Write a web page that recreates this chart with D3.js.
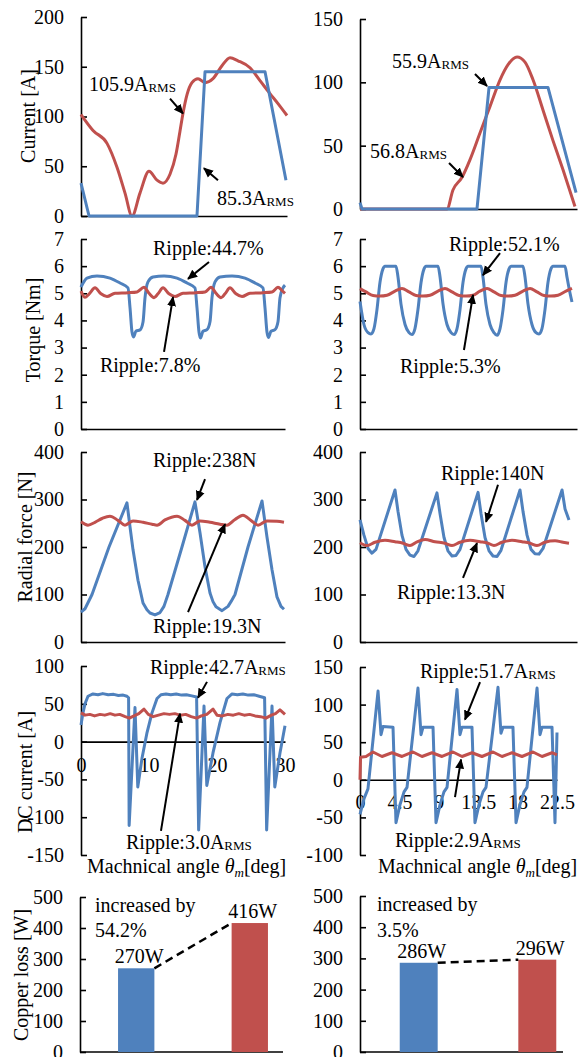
<!DOCTYPE html>
<html><head><meta charset="utf-8">
<script src="https://cdn.jsdelivr.net/npm/d3@7"></script>
<style>body{margin:0;background:#fff}svg{display:block}</style>
</head><body>
<svg id="c" width="587" height="1057"></svg>
<script>
// ---------------- DATA ----------------
const angleTicksLeft = [0, 10, 20, 30];
const angleTicksRight = [0, 4.5, 9, 13.5, 18, 22.5];
const currentTicksLeft = [0, 50, 100, 150, 200];
const currentTicksRight = [0, 50, 100, 150];
const torqueTicks = [0, 1, 2, 3, 4, 5, 6, 7];
const forceTicks = [0, 100, 200, 300, 400];
const dcTicksLeft = [-150, -100, -50, 0, 50, 100];
const dcTicksRight = [-100, -50, 0, 50, 100, 150];
const lossTicks = [0, 100, 200, 300, 400, 500];

// [angle, value]
const currentLeftBlue = [[0,33],[1.17,0],[16.89,0],[18.06,145],[26.8,145],[29.85,36]];
const currentLeftRed = [[0,102],[1.75,86],[3.79,73],[5.24,49],[6.41,23],[7.43,0],[8.59,23],[9.9,45],[11.07,36],[11.94,33],[12.96,42],[13.83,62],[14.41,85],[14.85,103],[15.44,122],[16.16,134],[17.04,138],[18.06,134],[19.22,138],[20.53,151],[21.7,159],[22.86,156],[24.61,149],[26.07,136],[27.52,123],[28.69,113],[30,101]];
const currentRightBlue = [[0,5],[0.21,0],[12.13,0],[13.38,96],[19.49,96],[22.4,13]];
const currentRightRed = [[0,0],[9.02,0],[9.64,15],[10.58,25],[11.41,39],[12.44,60],[13.48,81],[14.52,102],[15.35,114],[16.28,120],[17.11,116],[17.94,102],[18.98,78],[20.01,54],[21.05,31],[22.29,2]];

const torqueLeftBlue = [[0,5.23],[0.88,5.56],[2.35,5.64],[4.26,5.56],[5.74,5.38],[6.91,5.2],[7.21,4.46],[7.5,3.57],[7.72,3.39],[8.09,3.61],[8.68,3.65],[9.12,3.94],[9.41,4.83],[9.85,5.42],[10.59,5.6],[12.21,5.64],[14.12,5.56],[15.59,5.38],[16.76,5.2],[17.06,4.46],[17.35,3.57],[17.57,3.35],[17.94,3.6],[18.53,3.66],[18.97,3.95],[19.26,4.83],[19.71,5.42],[20.44,5.6],[22.21,5.64],[24.12,5.56],[25.59,5.38],[26.76,5.2],[27.06,4.46],[27.35,3.57],[27.57,3.37],[27.94,3.6],[28.53,3.66],[28.97,3.95],[29.26,4.83],[29.71,5.2],[30,5.3]];
const torqueLeftRed = [[0,5.08],[0.59,4.85],[1.18,4.97],[2.06,5.2],[2.94,4.98],[3.82,4.88],[5.0,5.0],[6.91,5.02],[8.24,5.05],[9.26,5.22],[10.0,5.0],[10.74,4.84],[11.32,4.98],[12.06,5.2],[12.94,4.98],[13.82,4.88],[15.0,5.0],[16.91,5.02],[18.24,5.05],[19.12,5.22],[19.85,5.0],[20.59,4.84],[21.18,4.98],[21.91,5.2],[22.79,4.98],[23.68,4.88],[24.85,5.0],[26.76,5.02],[28.09,5.05],[28.97,5.22],[29.56,5.1],[30,5.0]];
const torqueRightBlue = [[0,4.7],[0.41,3.85],[0.83,3.55],[1.14,3.5],[1.45,3.7],[1.76,4.4],[2.07,5.4],[2.38,5.9],[2.59,6.0],[3.73,6.0],[3.94,5.6],[4.25,4.6],[4.67,3.85],[5.08,3.55],[5.39,3.48],[5.7,3.7],[6.01,4.4],[6.33,5.4],[6.64,5.9],[6.84,6.0],[8.09,6.0],[8.3,5.6],[8.61,4.6],[9.02,3.85],[9.44,3.55],[9.75,3.48],[10.06,3.7],[10.37,4.4],[10.68,5.4],[10.99,5.9],[11.2,6.0],[12.55,6.0],[12.75,5.6],[13.06,4.6],[13.48,3.85],[13.89,3.55],[14.21,3.45],[14.52,3.7],[14.83,4.4],[15.14,5.4],[15.45,5.9],[15.66,6.0],[16.9,6.0],[17.11,5.6],[17.42,4.6],[17.83,3.85],[18.25,3.55],[18.56,3.5],[18.87,3.7],[19.18,4.4],[19.49,5.4],[19.8,5.9],[20.01,6.0],[21.26,6.0],[21.46,5.6],[21.78,5.0],[21.98,4.68]];
const torqueRightRed = [[0,5.17],[0.62,5.05],[1.35,4.92],[2.07,4.9],[2.8,4.93],[3.63,5.08],[4.35,5.18],[5.08,5.05],[5.81,4.92],[6.53,4.9],[7.26,4.93],[8.09,5.08],[8.81,5.18],[9.54,5.05],[10.27,4.92],[10.99,4.9],[11.72,4.93],[12.44,5.08],[13.17,5.18],[13.89,5.05],[14.62,4.92],[15.35,4.9],[16.07,4.93],[16.9,5.08],[17.63,5.18],[18.35,5.05],[19.08,4.92],[19.8,4.9],[20.53,4.93],[21.36,5.08],[21.98,5.18]];

const forceLeftBlue = [[0,63],[0.59,70],[1.62,100],[4.12,200],[6.76,293],[7.21,242],[7.65,194],[8.38,130],[9.12,82],[9.7,68],[10.15,61],[10.88,57],[11.62,62],[12.2,75],[12.79,100],[14.85,200],[16.76,295],[17.5,230],[18.24,158],[18.97,103],[19.41,85],[19.85,74],[20.74,66],[21.62,75],[22.1,86],[22.65,100],[24.56,200],[26.62,297],[27.35,221],[28.09,152],[28.82,95],[29.41,75],[29.85,69]];
const forceLeftRed = [[0,253],[1.03,246],[2.06,252],[3.09,260],[4.26,265],[5.44,256],[6.47,246],[7.65,255],[9.12,252],[10.44,248],[11.18,246],[12.35,257],[14.12,265],[15.29,256],[16.32,246],[17.5,255],[18.97,252],[20.44,248],[21.47,246],[22.65,258],[23.82,267],[25.0,256],[26.03,246],[27.35,255],[28.82,254],[29.85,252]];
const forceRightBlue = [[0,257],[0.41,225],[0.83,197],[1.24,187],[1.66,195],[3.63,320],[3.94,275],[4.35,225],[4.77,195],[5.18,183],[5.6,180],[6.01,192],[7.98,314],[8.3,270],[8.71,220],[9.12,192],[9.54,181],[9.95,182],[10.37,195],[12.24,315],[12.55,270],[12.96,220],[13.38,192],[13.79,181],[14.21,180],[14.62,193],[16.59,320],[16.9,275],[17.32,225],[17.73,195],[18.14,186],[18.56,185],[18.98,197],[20.95,320],[21.26,280],[21.67,257]];
const forceRightRed = [[0,209],[0.73,203],[1.56,210],[2.59,214],[3.63,211],[4.46,208],[5.18,203],[5.91,211],[6.74,216],[7.78,211],[8.81,208],[9.54,203],[10.37,210],[11.41,214],[12.44,211],[13.27,208],[13.89,203],[14.72,210],[15.76,214],[16.8,211],[17.63,208],[18.35,203],[19.18,210],[20.22,213],[21.05,210],[21.67,208]];

const dcLeftBlue = [[0,22],[0.29,38],[0.59,50],[1.03,60],[1.76,63],[2.5,62],[3.2,63.5],[4.0,62],[4.8,62.5],[5.5,61],[6.2,61.5],[6.76,60],[7.0,58],[7.08,-111],[7.94,45],[8.35,-60],[8.97,-22],[9.71,12],[10.44,38],[11.18,57],[11.76,62],[12.5,63],[13.2,62],[14.0,63],[14.8,61.5],[15.5,62],[16.3,60.5],[17.0,59],[17.3,-117],[18.09,47],[18.5,-58],[19.41,-15],[20.44,25],[21.47,57],[22.21,63],[23.0,62],[23.8,63],[24.6,61.5],[25.4,62],[26.2,60],[27.0,58],[27.3,-117],[28.09,47],[28.5,-60],[29.26,-15],[30,21]];
const dcLeftRed = [[0,38],[0.6,35],[1.3,36],[2.0,34],[2.8,36],[3.5,35],[4.3,37],[5.0,35],[5.7,36],[6.5,33],[7.1,31],[7.8,34],[8.5,37],[9.26,43],[9.9,36],[10.6,33],[11.4,35],[12.2,37],[13.0,36],[13.8,37],[14.6,35],[15.4,36],[16.2,33],[17.0,31],[17.7,34],[18.5,36],[19.41,43],[20.0,35],[20.8,34],[21.6,36],[22.4,35],[23.2,37],[24.0,35],[24.8,36],[25.6,34],[26.4,33],[27.2,31],[28.0,35],[28.6,37],[29.26,42],[30,36]];
const dcRightBlue = [[0,-46],[0.46,-25],[0.91,-12],[2.06,118],[2.4,60],[2.63,71],[3.77,70],[4.11,-57],[4.57,-33],[5.03,-16],[5.37,-10],[6.62,122],[6.97,60],[7.2,70],[8.34,70],[8.68,-57],[9.14,-33],[9.59,-16],[9.94,-10],[11.08,120],[11.42,60],[11.65,70],[12.79,70],[13.13,-57],[13.59,-33],[14.05,-16],[14.39,-10],[15.76,123],[16.1,62],[16.33,70],[17.47,70],[17.82,-57],[18.27,-33],[18.73,-16],[19.07,-10],[20.22,122],[20.56,60],[20.79,70],[21.93,70],[22.27,-57],[22.5,63]];
const dcRightRed = [[0,0],[0.06,30],[0.69,31],[1.48,37],[2.51,31],[3.65,36],[4.8,31],[6.05,37],[7.08,31],[8.22,36],[9.37,31],[10.62,37],[11.65,31],[12.79,36],[13.93,31],[15.19,37],[16.22,31],[17.36,36],[18.5,31],[19.76,37],[20.79,31],[21.93,36],[22.5,33]];

const lossCategories = ['Conventional', 'Proposed'];
const lossLeft = [270, 416];
const lossRight = [286, 296];

const currentLeftNotes = [
  {label:'105.9A', sub:'RMS', at:[1.16,126], tail:[12.96,118], tip:[14.85,103]},
  {label:'85.3A', sub:'RMS', at:[19.8,11], tail:[19.95,36], tip:[17.9,48]}];
const currentRightNotes = [
  {label:'55.9A', sub:'RMS', at:[3.32,111.3], tail:[11.92,106.6], tip:[13.17,97.1]},
  {label:'56.8A', sub:'RMS', at:[1.04,40.3], tail:[9.23,36.3], tip:[10.68,25.3]}];
const torqueLeftNotes = [
  {label:'Ripple:44.7%', at:[10.59,6.41], tail:[18.82,6.15], tip:[15.74,5.53]},
  {label:'Ripple:7.8%', at:[2.79,2.1], tail:[12.21,2.84], tip:[13.53,4.86]}];
const torqueRightNotes = [
  {label:'Ripple:52.1%', at:[9.23,6.56], tail:[14.52,6.48], tip:[12.75,5.67]},
  {label:'Ripple:5.3%', at:[4.15,2.06], tail:[10.78,2.91], tip:[11.72,4.94]}];
const forceLeftNotes = [
  {label:'Ripple:238N', at:[10.59,368], tail:[18.24,343], tip:[17.06,299]},
  {label:'Ripple:19.3N', at:[10.59,19], tail:[15.74,63], tip:[21.18,248]}];
const forceRightNotes = [
  {label:'Ripple:140N', at:[8.4,341], tail:[14.31,331], tip:[13.07,253]},
  {label:'Ripple:13.3N', at:[3.84,91], tail:[10.68,135], tip:[12.13,208]}];
const dcLeftNotes = [
  {label:'Ripple:42.7A', sub:'RMS', at:[10.15,90], tail:[18.53,79], tip:[17.21,58]},
  {label:'Ripple:3.0A', sub:'RMS', at:[6.62,-142], tail:[11.76,-118], tip:[14.56,37]}];
const dcRightNotes = [
  {label:'Ripple:51.7A', sub:'RMS', at:[6.85,136], tail:[13.71,130], tip:[11.99,80]},
  {label:'Ripple:2.9A', sub:'RMS', at:[4.0,-90], tail:[10.85,-23], tip:[11.54,27]}];

// ---------------- DRAWING ----------------
const FONT = "'Liberation Serif','Times New Roman',Times,serif";
const BLUE = '#4F81BD', RED = '#C0504D';
const svg = d3.select('#c');
svg.append('rect').attr('width', 587).attr('height', 1057).attr('fill', '#fff');
svg.append('defs').append('marker').attr('id', 'ah')
  .attr('viewBox', '0 0 10 10').attr('refX', 9).attr('refY', 5)
  .attr('markerWidth', 5).attr('markerHeight', 5).attr('orient', 'auto')
  .append('path').attr('d', 'M0,0.5L10,5L0,9.5z').attr('fill', '#000');

function styleAxis(g) {
  g.attr('font-family', FONT).attr('font-size', 20);
  g.selectAll('text').attr('fill', '#000');
  g.selectAll('path,line').attr('stroke', '#000').attr('stroke-width', 1.6);
}

function addNotes(g, x, y, notes) {
  notes.forEach(n => {
    g.append('line').attr('x1', x(n.tail[0])).attr('y1', y(n.tail[1]))
      .attr('x2', x(n.tip[0])).attr('y2', y(n.tip[1]))
      .attr('stroke', '#000').attr('stroke-width', 2).attr('marker-end', 'url(#ah)');
    const t = g.append('text').attr('x', x(n.at[0])).attr('y', y(n.at[1]))
      .attr('font-family', FONT).attr('font-size', 20).attr('fill', '#000').text(n.label);
    if (n.sub) t.append('tspan').attr('font-size', 13).attr('dy', 1).text(n.sub);
  });
}

function yTitle(text, bx, cy) {
  svg.append('text').attr('transform', `translate(${bx},${cy}) rotate(-90)`)
    .attr('text-anchor', 'middle').attr('font-family', FONT).attr('font-size', 20)
    .attr('fill', '#000').text(text);
}

function linePanel(p) {
  const x = d3.scaleLinear().domain(p.xd).range(p.xr);
  const y = d3.scaleLinear().domain(p.yd).range(p.yr);
  const g = svg.append('g');
  g.append('g').attr('transform', `translate(${p.xr[0]},0)`)
    .call(d3.axisLeft(y).tickValues(p.yticks).tickFormat(d => String(d))
      .tickSizeInner(-6).tickSizeOuter(0).tickPadding(17))
    .call(styleAxis);
  const xa = d3.axisBottom(x).tickSizeInner(0).tickSizeOuter(0).tickPadding(p.xpad || 0);
  if (p.xticks) xa.tickValues(p.xticks).tickFormat(d => String(d)); else xa.tickValues([]);
  g.append('g').attr('transform', `translate(0,${y(0)})`).call(xa).call(styleAxis);
  p.series.forEach(([data, color, smooth]) => {
    const line = d3.line().x(d => x(d[0])).y(d => y(d[1]))
      .curve(smooth ? d3.curveMonotoneX : d3.curveLinear);
    g.append('path').datum(data).attr('d', line).attr('fill', 'none')
      .attr('stroke', color).attr('stroke-width', 3).attr('stroke-linejoin', 'round');
  });
  addNotes(g, x, y, p.notes);
  if (p.xlabel) {
    const t = g.append('text').attr('x', p.xlabel[0]).attr('y', p.xlabel[1])
      .attr('font-family', FONT).attr('font-size', 20).attr('fill', '#000');
    t.append('tspan').text('Machnical angle ');
    t.append('tspan').attr('font-style', 'italic').text('θ');
    t.append('tspan').attr('font-style', 'italic').attr('font-size', 13).attr('dy', 4).text('m');
    t.append('tspan').attr('dy', -4).text('[deg]');
  }
}

function barPanel(p) {
  const x = d3.scaleBand().domain(lossCategories).range(p.xr).paddingInner(0.68).paddingOuter(0.335);
  const y = d3.scaleLinear().domain([0, 500]).range(p.yr);
  const g = svg.append('g');
  g.append('g').attr('transform', `translate(${p.xr[0]},0)`)
    .call(d3.axisLeft(y).tickValues(lossTicks).tickFormat(d => String(d))
      .tickSizeInner(-6).tickSizeOuter(0).tickPadding(17))
    .call(styleAxis);
  g.append('line').attr('x1', p.xr[0]).attr('x2', p.axisEnd).attr('y1', y(0)).attr('y2', y(0))
    .attr('stroke', '#000').attr('stroke-width', 1.6);
  const colors = [BLUE, RED];
  g.selectAll('rect.bar').data(p.values).join('rect')
    .attr('x', (d, i) => x(lossCategories[i])).attr('width', x.bandwidth())
    .attr('y', d => y(d)).attr('height', d => y(0) - y(d)).attr('fill', (d, i) => colors[i]);
  g.append('line')
    .attr('x1', x(lossCategories[0]) + x.bandwidth()).attr('y1', y(p.values[0]))
    .attr('x2', x(lossCategories[1])).attr('y2', y(p.values[1]))
    .attr('stroke', '#000').attr('stroke-width', 2.5).attr('stroke-dasharray', '8,5');
  p.values.forEach((v, i) => {
    g.append('text').attr('x', x(lossCategories[i]) + x.bandwidth() / 2 + 3).attr('y', y(v) - 5)
      .attr('text-anchor', 'middle').attr('font-family', FONT).attr('font-size', 20)
      .attr('fill', '#000').text(v + 'W');
  });
  g.append('text').attr('x', p.xr[0] + p.noteDx).attr('y', y(452)).attr('font-family', FONT)
    .attr('font-size', 20).attr('fill', '#000').text('increased by');
  g.append('text').attr('x', p.xr[0] + p.noteDx).attr('y', y(370)).attr('font-family', FONT)
    .attr('font-size', 20).attr('fill', '#000').text(p.pct);
}

const linePanels = [
  {xr:[81,287], xd:[0,30], yr:[216,17], yd:[0,200], yticks:currentTicksLeft,
   series:[[currentLeftRed,RED,true],[currentLeftBlue,BLUE,false]], notes:currentLeftNotes},
  {xr:[360,577], xd:[0,22.5], yr:[209,19], yd:[0,150], yticks:currentTicksRight,
   series:[[currentRightRed,RED,true],[currentRightBlue,BLUE,false]], notes:currentRightNotes},
  {xr:[81,285], xd:[0,30], yr:[429,239], yd:[0,7], yticks:torqueTicks,
   series:[[torqueLeftBlue,BLUE,true],[torqueLeftRed,RED,true]], notes:torqueLeftNotes},
  {xr:[360,577], xd:[0,22.5], yr:[429,239], yd:[0,7], yticks:torqueTicks,
   series:[[torqueRightBlue,BLUE,true],[torqueRightRed,RED,true]], notes:torqueRightNotes},
  {xr:[81,285], xd:[0,30], yr:[642,452], yd:[0,400], yticks:forceTicks,
   series:[[forceLeftBlue,BLUE,false],[forceLeftRed,RED,true]], notes:forceLeftNotes},
  {xr:[360,577], xd:[0,22.5], yr:[642,452], yd:[0,400], yticks:forceTicks,
   series:[[forceRightBlue,BLUE,false],[forceRightRed,RED,true]], notes:forceRightNotes},
  {xr:[81,285], xd:[0,30], yr:[855,666], yd:[-150,100], yticks:dcTicksLeft,
   xticks:angleTicksLeft, xpad:16, xlabel:[87,873],
   series:[[dcLeftBlue,BLUE,false],[dcLeftRed,RED,false]], notes:dcLeftNotes},
  {xr:[360,557], xd:[0,22.5], yr:[855,667], yd:[-100,150], yticks:dcTicksRight,
   xticks:angleTicksRight, xpad:15, xlabel:[378,873],
   series:[[dcRightBlue,BLUE,false],[dcRightRed,RED,false]], notes:dcRightNotes}
];
linePanels.forEach(linePanel);

barPanel({xr:[80,306], yr:[1052,897], axisEnd:283, values:lossLeft, noteDx:15, pct:'54.2%'});
barPanel({xr:[360,596], yr:[1052,896], axisEnd:563, values:lossRight, noteDx:17, pct:'3.5%'});

yTitle('Current [A]', 35, 116);
yTitle('Torque [Nm]', 40, 330);
yTitle('Radial force [N]', 32, 537);
yTitle('DC current [A]', 32, 772);
yTitle('Copper loss [W]', 28, 975);
</script>
</body></html>
